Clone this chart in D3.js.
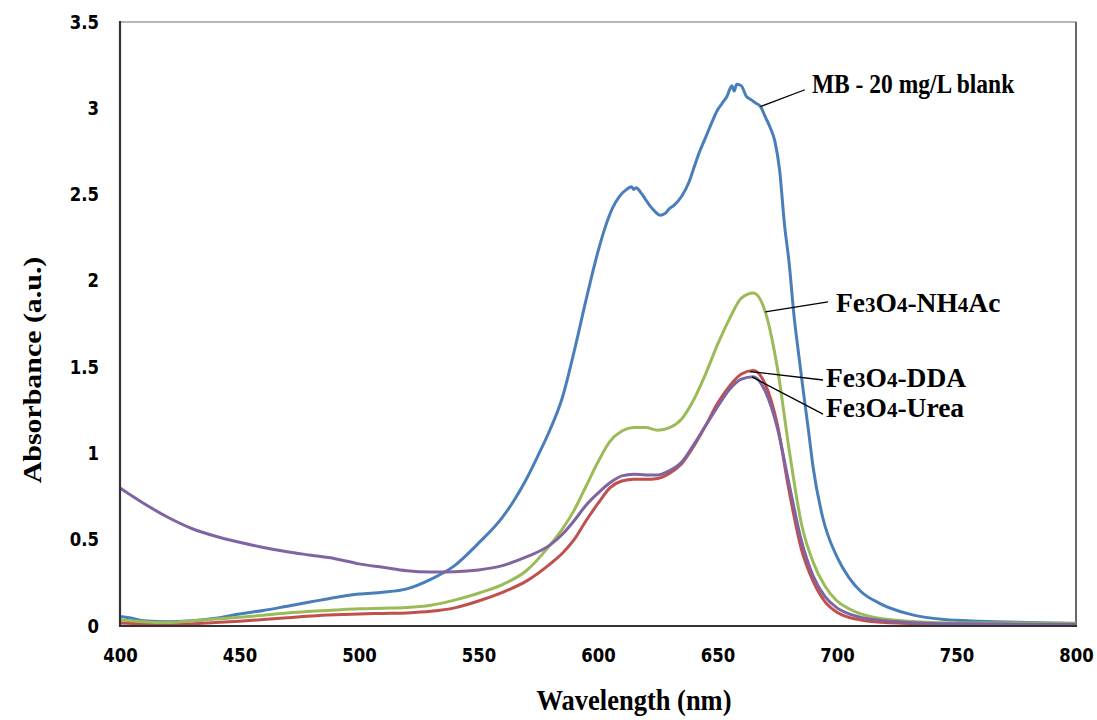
<!DOCTYPE html>
<html>
<head>
<meta charset="UTF-8">
<title>Absorbance spectra</title>
<script src="https://d3js.org/d3.v7.min.js"></script>
<style>
body { margin: 0; background: #fff; }
text { fill: #000; }
</style>
</head>
<body>
<svg id="chart" width="1097" height="720"></svg>
<script>
// wavelengths (nm) + absorbance
var wlBlue = [400, 405, 410, 420, 430, 440, 450, 460, 470, 480, 490, 500, 510, 520, 530, 540, 550, 560, 565, 570, 575, 580, 585, 590, 595, 600, 603, 606, 609, 612, 614, 615, 616, 618, 620, 622, 624, 626, 628, 630, 632, 635, 638, 640, 642, 645, 648, 650, 652, 654, 656, 657, 658, 660, 662, 664, 666, 668, 670, 672, 674, 676, 678, 680, 682, 684, 686, 688, 690, 694, 700, 705, 710, 718, 730, 745, 760, 780, 800];
var absMB = [0.055, 0.045, 0.03, 0.025, 0.03, 0.045, 0.07, 0.09, 0.115, 0.14, 0.165, 0.185, 0.195, 0.215, 0.27, 0.35, 0.48, 0.63, 0.73, 0.85, 0.99, 1.14, 1.32, 1.59, 1.89, 2.17, 2.31, 2.42, 2.49, 2.53, 2.545, 2.53, 2.54, 2.51, 2.47, 2.43, 2.4, 2.38, 2.39, 2.42, 2.44, 2.49, 2.57, 2.65, 2.73, 2.83, 2.93, 2.99, 3.03, 3.07, 3.13, 3.1, 3.14, 3.13, 3.07, 3.05, 3.03, 3.01, 2.95, 2.89, 2.81, 2.64, 2.33, 2.1, 1.8, 1.57, 1.35, 1.14, 0.92, 0.63, 0.4, 0.28, 0.2, 0.13, 0.07, 0.037, 0.027, 0.02, 0.015];

var wl = [400, 410, 420, 430, 440, 450, 460, 470, 480, 490, 500, 510, 520, 530, 540, 550, 560, 570, 580, 585, 590, 595, 600, 605, 610, 615, 620, 625, 630, 635, 640, 645, 650, 655, 660, 665, 670, 675, 680, 685, 690, 695, 700, 705, 710, 720, 730, 740, 750, 770, 800];
var absNH4Ac = [0.035, 0.025, 0.02, 0.03, 0.04, 0.05, 0.062, 0.075, 0.085, 0.093, 0.1, 0.103, 0.107, 0.12, 0.15, 0.19, 0.24, 0.32, 0.47, 0.56, 0.67, 0.81, 0.95, 1.07, 1.13, 1.15, 1.15, 1.135, 1.15, 1.2, 1.31, 1.46, 1.63, 1.78, 1.9, 1.93, 1.82, 1.5, 1.02, 0.6, 0.37, 0.23, 0.145, 0.1, 0.07, 0.04, 0.027, 0.02, 0.018, 0.017, 0.016];
var absDDA = [0.018, 0.012, 0.008, 0.012, 0.02, 0.028, 0.037, 0.048, 0.058, 0.065, 0.07, 0.073, 0.076, 0.085, 0.105, 0.145, 0.195, 0.26, 0.36, 0.42, 0.5, 0.61, 0.71, 0.8, 0.84, 0.85, 0.85, 0.855, 0.885, 0.94, 1.04, 1.16, 1.29, 1.39, 1.46, 1.48, 1.4, 1.17, 0.78, 0.45, 0.26, 0.14, 0.08, 0.05, 0.035, 0.02, 0.015, 0.011, 0.01, 0.008, 0.007];
var absUrea = [0.8, 0.71, 0.63, 0.565, 0.52, 0.485, 0.455, 0.43, 0.41, 0.39, 0.36, 0.34, 0.32, 0.313, 0.315, 0.325, 0.35, 0.4, 0.47, 0.53, 0.61, 0.7, 0.77, 0.83, 0.87, 0.88, 0.875, 0.875, 0.9, 0.95, 1.05, 1.16, 1.27, 1.37, 1.43, 1.445, 1.36, 1.15, 0.82, 0.5, 0.29, 0.17, 0.105, 0.07, 0.05, 0.03, 0.02, 0.015, 0.013, 0.011, 0.01];

var xTicks = [400, 450, 500, 550, 600, 650, 700, 750, 800];
var yTicks = [0, 0.5, 1, 1.5, 2, 2.5, 3, 3.5];

var seriesNames = ["MB - 20 mg/L blank", "Fe3O4-DDA", "Fe3O4-NH4Ac", "Fe3O4-Urea"];
var seriesColors = ["#4a7ebb", "#c0504d", "#9bbb59", "#8064a2"];
var seriesX = [wlBlue, wl, wl, wl];
var seriesY = [absMB, absDDA, absNH4Ac, absUrea];

// label: point on curve (nm) where the leader starts, and text spot (nm, abs)
var leaderAt = [668, 663.6, 670, 664.4];
var labelNm = [689.5, 695.4, 699.6, 695.4];
var labelAbs = [3.09, 1.385, 1.82, 1.21];

var SY = 1.15; // picture is a bit stretched vertically
var svg = d3.select("#chart");
var m = {left: 120, right: 1076, top: 22, bottom: 626};
var x = d3.scaleLinear().domain([400, 800]).range([m.left, m.right]);
var y = d3.scaleLinear().domain([0, 3.5]).range([m.bottom, m.top]);

svg.append("rect").attr("width", 1097).attr("height", 720).attr("fill", "#fff");

// plot frame
svg.append("rect").attr("x", m.left).attr("y", m.top)
	.attr("width", m.right - m.left).attr("height", m.bottom - m.top)
	.attr("fill", "none").attr("stroke", "#888").attr("stroke-width", 1.2);
svg.append("line").attr("x1", m.right).attr("x2", m.right).attr("y1", m.top).attr("y2", m.bottom)
	.attr("stroke", "#555").attr("stroke-width", 1.6);

var line = d3.line().curve(d3.curveMonotoneX);
for (var i = 0; i < seriesNames.length; i++) {
	var pts = seriesX[i].map(function(v, k) { return [x(v), y(seriesY[i][k])]; });
	svg.append("path").attr("d", line(pts)).attr("fill", "none")
		.attr("stroke", seriesColors[i]).attr("stroke-width", 3).attr("stroke-linejoin", "round");
}

// axes
var gy = svg.append("g").attr("transform", "translate(" + m.left + ",0)")
	.call(d3.axisLeft(y).tickValues(yTicks).tickSize(0).tickPadding(21).tickFormat(function(d) { return String(d); }));
var gx = svg.append("g").attr("transform", "translate(0," + m.bottom + ")")
	.call(d3.axisBottom(x).tickValues(xTicks).tickSize(0).tickPadding(20).tickFormat(d3.format("d")));
[gx, gy].forEach(function(g) {
	g.select(".domain").remove();
	g.selectAll("text").attr("font-family", "'DejaVu Sans', Verdana, sans-serif")
		.attr("font-weight", "bold").attr("font-size", 16.5).attr("fill", "#000")
		.attr("transform", "scale(1," + SY + ")");
});
svg.append("line").attr("x1", m.left).attr("x2", m.left).attr("y1", m.top - 1).attr("y2", m.bottom + 1)
	.attr("stroke", "#333").attr("stroke-width", 2.2);
svg.append("line").attr("x1", m.left - 1).attr("x2", m.right + 1).attr("y1", m.bottom).attr("y2", m.bottom)
	.attr("stroke", "#333").attr("stroke-width", 2.2);

// axis titles
svg.append("g").attr("transform", "translate(634,710) scale(1," + SY + ")")
	.append("text").attr("text-anchor", "middle")
	.attr("font-family", "'Liberation Serif', 'Times New Roman', serif")
	.attr("font-weight", "bold").attr("font-size", 26.5).text("Wavelength (nm)");
svg.append("g").attr("transform", "translate(41,370) scale(1," + SY + ") rotate(-90)")
	.append("text").attr("text-anchor", "middle")
	.attr("font-family", "'Liberation Serif', 'Times New Roman', serif")
	.attr("font-weight", "bold").attr("font-size", 26).text("Absorbance (a.u.)");

// labels with leader lines
function valueAt(xs, ys, nm) {
	var k = d3.bisectLeft(xs, nm);
	if (k <= 0) return ys[0];
	var t = (nm - xs[k - 1]) / (xs[k] - xs[k - 1]);
	return ys[k - 1] + t * (ys[k] - ys[k - 1]);
}
var leadEnd = [[-7, -3], [-3, -7], [-8, -10], [-3, -3]];
for (var j = 0; j < seriesNames.length; j++) {
	var tx = x(labelNm[j]), ty = y(labelAbs[j]);
	var lx = x(leaderAt[j]), ly = y(valueAt(seriesX[j], seriesY[j], leaderAt[j]));
	svg.append("line").attr("x1", lx).attr("y1", ly)
		.attr("x2", tx + leadEnd[j][0]).attr("y2", ty + leadEnd[j][1])
		.attr("stroke", "#000").attr("stroke-width", 1.3);
	if (j == 0) {
		svg.append("g").attr("transform", "translate(" + tx + "," + ty + ") scale(1," + SY + ")")
			.append("text").attr("font-family", "'Liberation Serif', 'Times New Roman', serif")
			.attr("font-weight", "bold").attr("font-size", 23.5).text(seriesNames[j]);
	} else {
		var t = svg.append("text").attr("x", tx).attr("y", ty)
			.attr("font-family", "'Liberation Serif', 'Times New Roman', serif")
			.attr("font-weight", "bold").attr("font-size", 27.5);
		seriesNames[j].split(/(\d)/).forEach(function(part) {
			if (part === "") return;
			var ts = t.append("tspan").text(part);
			if (/^\d$/.test(part)) ts.attr("font-size", 21);
		});
	}
}
</script>
</body>
</html>
